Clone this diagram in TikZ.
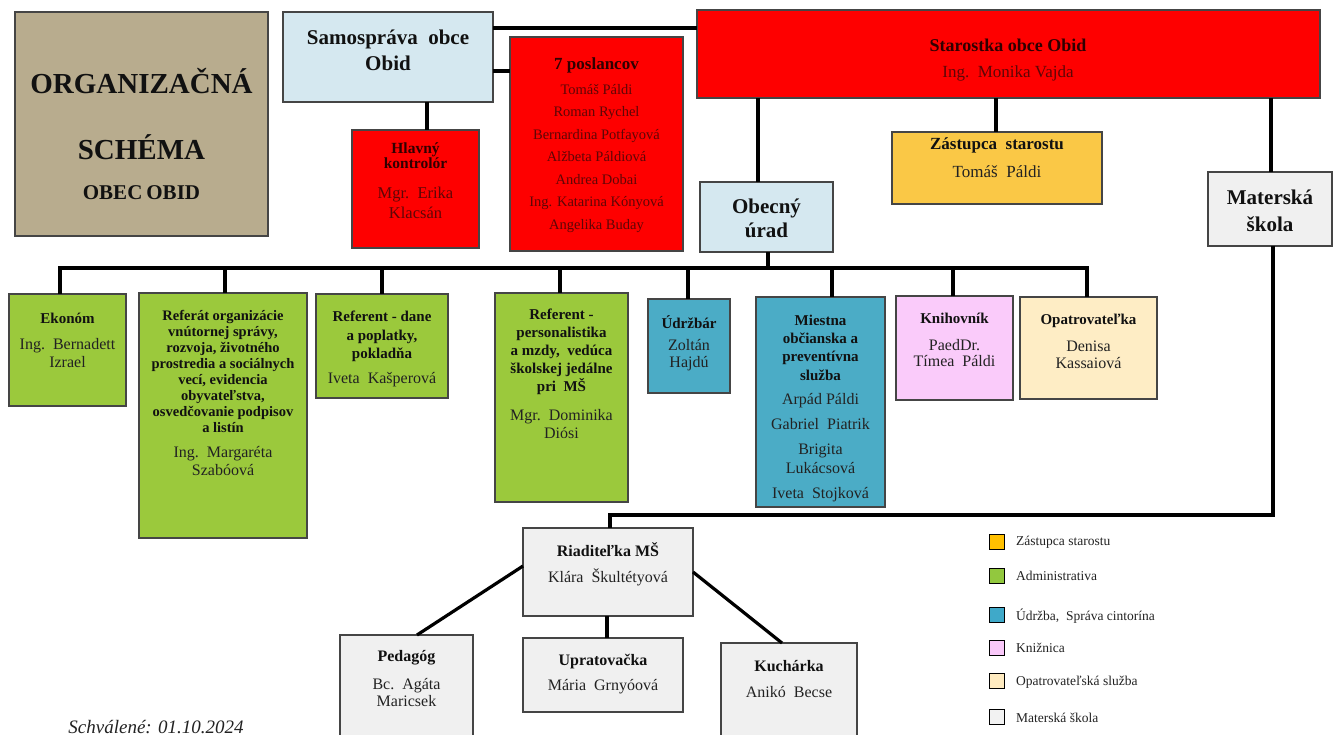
\documentclass[tikz,border=0pt]{standalone}
\usepackage{fontspec}
\setmainfont{Liberation Serif}
\definecolor{titlec}{HTML}{B8AC8E}
\definecolor{lblue}{HTML}{D5E8F0}
\definecolor{redc}{HTML}{FE0000}
\definecolor{goldc}{HTML}{FAC846}
\definecolor{greenc}{HTML}{9BC93C}
\definecolor{bluec}{HTML}{4BACC6}
\definecolor{pinkc}{HTML}{FACBFA}
\definecolor{creamc}{HTML}{FEEDC5}
\definecolor{greyc}{HTML}{F0F0F0}
\definecolor{bordc}{HTML}{454545}
\definecolor{hdc}{HTML}{111111}
\definecolor{nmc}{HTML}{222222}
\definecolor{marh}{HTML}{300000}
\definecolor{marn}{HTML}{5E0606}
\definecolor{lgorange}{HTML}{FFC000}
\definecolor{lggreen}{HTML}{92C83E}
\definecolor{lgblue}{HTML}{3FA9C9}
\definecolor{lgpink}{HTML}{F9C8F9}
\definecolor{lgcream}{HTML}{FFEBC0}
\definecolor{lggrey}{HTML}{F2F2F2}
\tikzset{
  obox/.style={draw=bordc,line width=1.1pt,inner sep=0pt,outer sep=0pt},
  conn/.style={line width=3.2pt,black},
  hd/.style 2 args={font=\bfseries\fontsize{#1}{#2}\selectfont,align=center,inner sep=0pt,text=hdc},
  nm/.style 2 args={font=\fontsize{#1}{#2}\selectfont,align=center,inner sep=0pt,text=nmc},
  lgsq/.style={draw=black,line width=1.8pt,minimum width=15pt,minimum height=15pt,inner sep=0pt},
  lgtx/.style={font=\fontsize{13.5}{15}\selectfont,anchor=west,inner sep=0pt,text=nmc}
}
\newcommand\bx[6]{\node[obox,fill=#6,anchor=north west,minimum width={(#4-#2)*1pt},minimum height={(#5-#3)*1pt}] (#1) at (#2,#3) {};}
\begin{document}
\begin{tikzpicture}[x=1pt,y=-1pt]
\useasboundingbox (0,0) rectangle (1333,735);
\clip (0,0) rectangle (1333,735);
\fill[white] (0,0) rectangle (1333,735);
% boxes
\bx{title}{15}{12}{268}{236}{titlec}
\bx{samo}{283}{12}{493}{102}{lblue}
\bx{star}{697}{10}{1320}{98}{redc}
\bx{posl}{510}{37}{683}{251}{redc}
\bx{hlav}{352}{130}{479}{248}{redc}
\bx{zast}{892}{132}{1102}{204}{goldc}
\bx{obec}{700}{182}{833}{252}{lblue}
\bx{mat}{1208}{172}{1332}{246}{greyc}
\bx{ekon}{9}{294}{126}{406}{greenc}
\bx{refo}{139}{293}{307}{538}{greenc}
\bx{refd}{316}{294}{448}{398}{greenc}
\bx{refp}{495}{293}{628}{502}{greenc}
\bx{udrz}{648}{299}{730}{393}{bluec}
\bx{mies}{756}{297}{885}{507}{bluec}
\bx{kniv}{896}{296}{1013}{400}{pinkc}
\bx{opat}{1020}{297}{1157}{399}{creamc}
\bx{riad}{523}{528}{693}{616}{greyc}
\bx{peda}{340}{635}{473}{745}{greyc}
\bx{uprat}{523}{638}{683}{712}{greyc}
\bx{kuch}{721}{643}{857}{745}{greyc}
% helper coordinates
\coordinate (h1) at (0,28);
\coordinate (h2) at (0,71);
\coordinate (bus) at (0,268);
\coordinate (low) at (0,515);
\coordinate (d1) at (0,566);
\coordinate (v427) at (427,0);
\coordinate (v758) at (758,0);
\coordinate (v996) at (996,0);
\coordinate (v1271) at (1271,0);
\coordinate (v1273) at (1273,0);
\coordinate (v768) at (768,0);
\coordinate (v60) at (60,0);
\coordinate (v225) at (225,0);
\coordinate (v382) at (382,0);
\coordinate (v560) at (560,0);
\coordinate (v688) at (688,0);
\coordinate (v832) at (832,0);
\coordinate (v953) at (953,0);
\coordinate (v1087) at (1087,0);
\coordinate (v610) at (610,0);
\coordinate (v607) at (607,0);
\coordinate (v417) at (417,0);
\coordinate (v782) at (782,0);
% connectors
\draw[conn] (samo.east |- h1) -- (star.west |- h1);
\draw[conn] (samo.east |- h2) -- (posl.west |- h2);
\draw[conn] (samo.south -| v427) -- (hlav.north -| v427);
\draw[conn] (star.south -| v758) -- (obec.north -| v758);
\draw[conn] (star.south -| v996) -- (zast.north -| v996);
\draw[conn] (star.south -| v1271) -- (mat.north -| v1271);
\draw[conn] (obec.south -| v768) -- (v768 |- bus);
\draw[conn] (ekon.north -| v60) -- (v60 |- bus) -- (v1087 |- bus) -- (opat.north -| v1087);
\draw[conn] (v225 |- bus) -- (refo.north -| v225);
\draw[conn] (v382 |- bus) -- (refd.north -| v382);
\draw[conn] (v560 |- bus) -- (refp.north -| v560);
\draw[conn] (v688 |- bus) -- (udrz.north -| v688);
\draw[conn] (v832 |- bus) -- (mies.north -| v832);
\draw[conn] (v953 |- bus) -- (kniv.north -| v953);
\draw[conn] (mat.south -| v1273) -- (v1273 |- low) -- (v610 |- low) -- (riad.north -| v610);
\draw[conn] (riad.west |- d1) -- (peda.north -| v417);
\draw[conn] (riad.south -| v607) -- (uprat.north -| v607);
\draw[conn] (riad.east) -- (kuch.north -| v782);
% title texts
\node[hd={29}{30}] (t1) at (141.5,81) {ORGANIZAČNÁ};
\node[hd={29}{30}] (t2) at (141.5,147) {SCHÉMA};
\node[hd={21}{22}] (t3) at (141.5,193) {OBEC\hspace{4pt}OBID};
% top texts
\node[hd={21}{26}] (samoT) at (388,50) {Samospráva\ \ obce\\Obid};
\node[hd={18}{20},text=marh] (starH) at (1008,45) {Starostka obce Obid};
\node[nm={17}{20},text=marn] (starN) at (1008,73) {Ing.\ \ Monika Vajda};
\node[hd={17}{20},text=marh] (poslH) at (596.5,65) {7 poslancov};
\node[nm={14.5}{22.5},text=marn] (poslN) at (596.5,158.5) {Tomáš Páldi\\Roman Rychel\\Bernardina Potfayová\\Alžbeta Páldiová\\Andrea Dobai\\Ing. Katarina Kónyová\\Angelika Buday};
\node[hd={15.5}{15.5},text=marh] (hlavH) at (415.5,155.5) {Hlavný\\kontrolór};
\node[nm={16.5}{20},text=marn] (hlavN) at (415.5,203) {Mgr.\ \ Erika\\Klacsán};
\node[hd={17}{20}] (zastH) at (997,145) {Zástupca\ \ starostu};
\node[nm={17}{20}] (zastN) at (997,172) {Tomáš\ \ Páldi};
\node[hd={21}{24}] (obecT) at (766.5,218) {Obecný\\úrad};
\node[hd={21}{27}] (matT) at (1270,210.5) {Materská\\škola};
% second row texts
\node[hd={15}{18}] (ekonH) at (67.5,318) {Ekonóm};
\node[nm={16}{18}] (ekonN) at (67.5,353) {Ing.\ \ Bernadett\\Izrael};
\node[hd={14.5}{16}] (refoH) at (223,371) {Referát organizácie\\vnútornej správy,\\rozvoja, životného\\prostredia a sociálnych\\vecí, evidencia\\obyvateľstva,\\osvedčovanie podpisov\\a listín};
\node[nm={16}{18}] (refoN) at (223,461) {Ing.\ \ Margaréta\\Szabóová};
\node[hd={15}{18.5}] (refdH) at (382,336.5) {Referent - dane\\a poplatky,\\pokladňa};
\node[nm={16}{18}] (refdN) at (382,380) {Iveta\ \ Kašperová};
\node[hd={15}{18}] (refpH) at (561.5,352) {Referent -\\personalistika\\a mzdy,\ \ vedúca\\školskej jedálne\\pri\ \ MŠ};
\node[nm={16}{18}] (refpN) at (561.5,424) {Mgr.\ \ Dominika\\Diósi};
\node[hd={15}{18}] (udrzH) at (689,322) {Údržbár};
\node[nm={16}{17}] (udrzN) at (689,355.5) {Zoltán\\Hajdú};
\node[hd={15}{18.3}] (miesH) at (820.5,347.5) {Miestna\\občianska a\\preventívna\\služba};
\node[nm={16}{19}] (miesN) at (820.5,447.5) {Arpád Páldi\\[6pt]Gabriel\ \ Piatrik\\[6pt]Brigita\\Lukácsová\\[6pt]Iveta\ \ Stojková};
\node[hd={15}{18}] (knivH) at (954.5,318) {Knihovník};
\node[nm={16}{16}] (knivN) at (954.5,353) {PaedDr.\\Tímea\ \ Páldi};
\node[hd={15}{18}] (opatH) at (1088.5,321) {Opatrovateľka};
\node[nm={16}{17}] (opatN) at (1088.5,354.5) {Denisa\\Kassaiová};
% bottom texts
\node[hd={16}{18}] (riadH) at (608,550) {Riaditeľka MŠ};
\node[nm={16}{18}] (riadN) at (608,577) {Klára\ \ Škultétyová};
\node[hd={16}{18}] (pedaH) at (406.5,658) {Pedagóg};
\node[nm={16}{17}] (pedaN) at (406.5,692.5) {Bc.\ \ Agáta\\Maricsek};
\node[hd={16}{18}] (upratH) at (603,662) {Upratovačka};
\node[nm={16}{18}] (upratN) at (603,687) {Mária\ \ Grnyóová};
\node[hd={16}{18}] (kuchH) at (789,666) {Kuchárka};
\node[nm={16}{18}] (kuchN) at (789,692) {Anikó\ \ Becse};
% legend
\node[lgsq,fill=lgorange] (lg1) at (997,542) {};
\node[lgsq,fill=lggreen] (lg2) at (997,576) {};
\node[lgsq,fill=lgblue] (lg3) at (997,615) {};
\node[lgsq,fill=lgpink] (lg4) at (997,648) {};
\node[lgsq,fill=lgcream] (lg5) at (997,681) {};
\node[lgsq,fill=lggrey] (lg6) at (997,717) {};
\node[lgtx] (lt1) at (1016,542) {Zástupca starostu};
\node[lgtx] (lt2) at (1016,576) {Administrativa};
\node[lgtx] (lt3) at (1016,616) {Údržba,\ \ Správa cintorína};
\node[lgtx] (lt4) at (1016,648) {Knižnica};
\node[lgtx] (lt5) at (1016,682) {Opatrovateľská služba};
\node[lgtx] (lt6) at (1016,718) {Materská škola};
% approval
\node[font=\itshape\fontsize{19}{20}\selectfont,text=nmc,inner sep=0pt] (appr) at (156,727) {Schválené: 01.10.2024};
\end{tikzpicture}
\end{document}
